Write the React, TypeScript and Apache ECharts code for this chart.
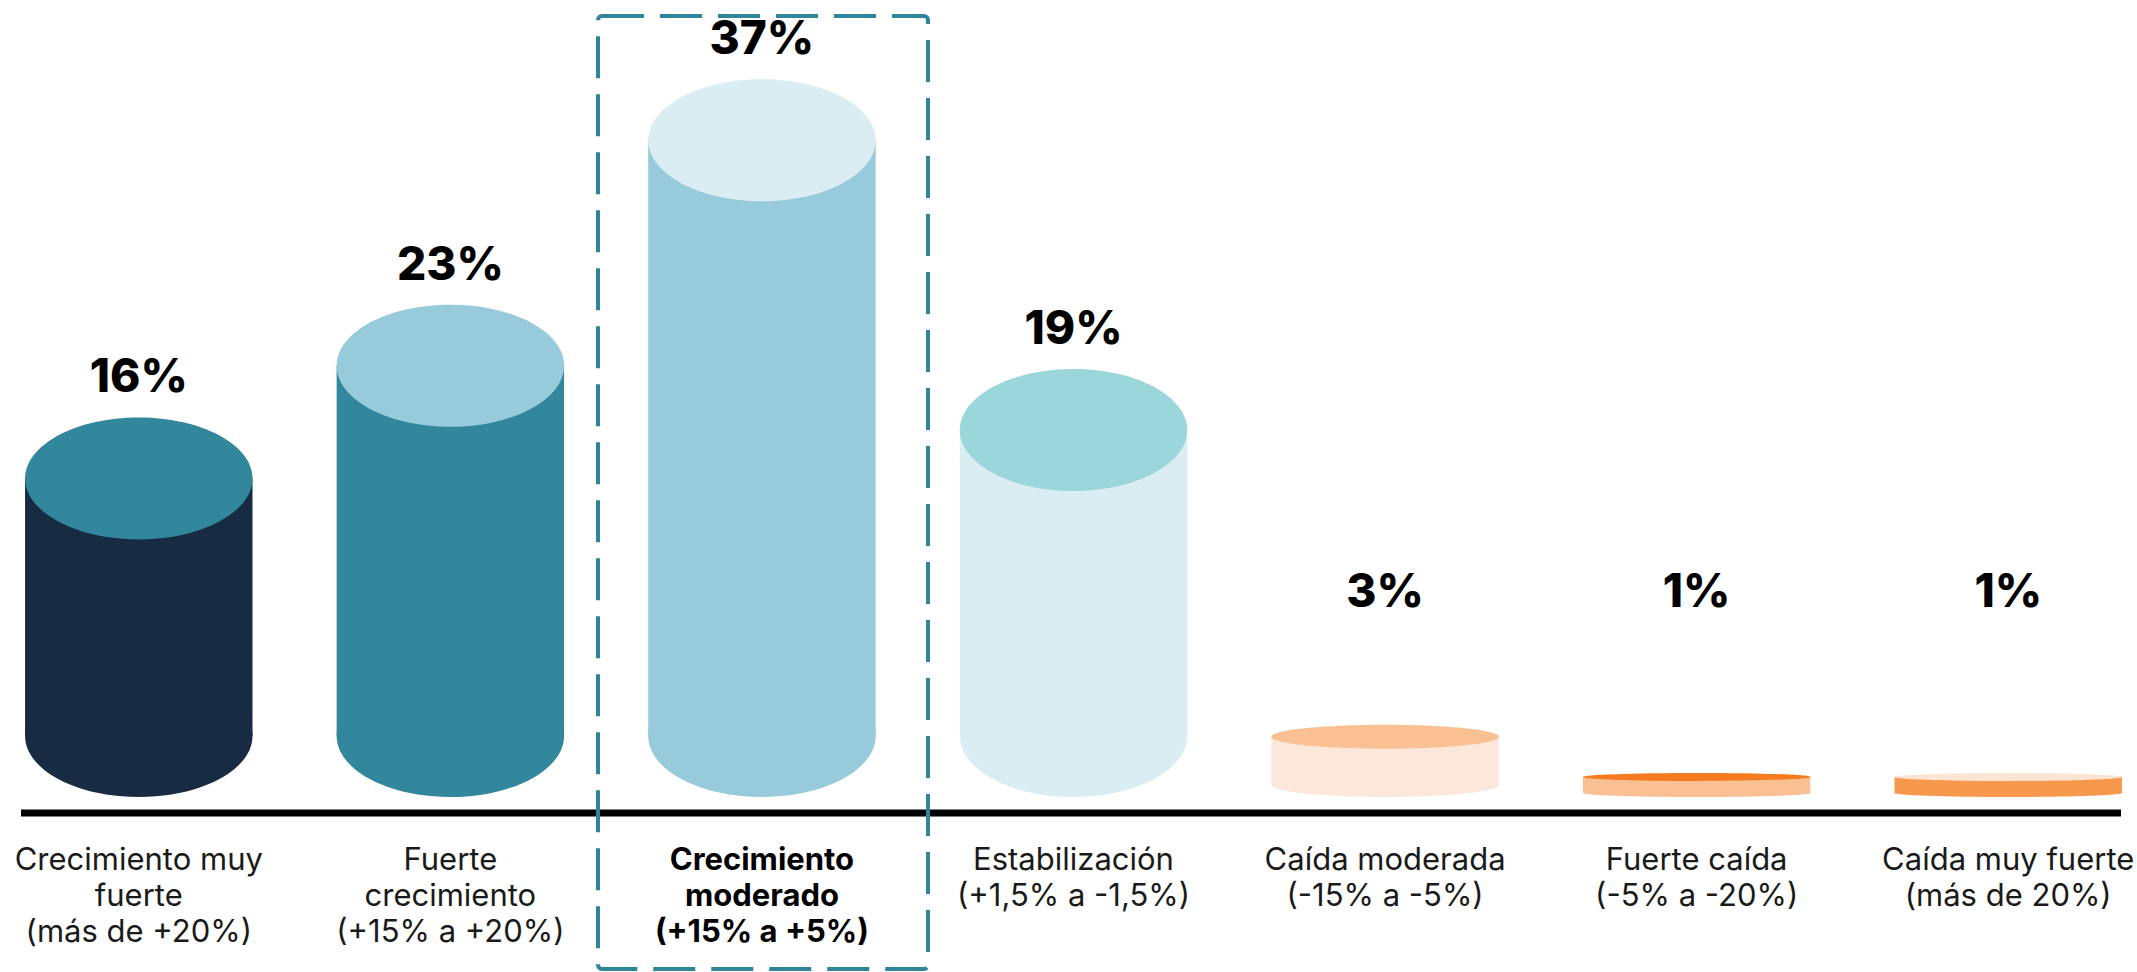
import React, { useEffect, useRef } from 'react';
import * as echarts from 'echarts';

const categories = [
  'Crecimiento muy\nfuerte\n(más de +20%)',
  'Fuerte\ncrecimiento\n(+15% a +20%)',
  'Crecimiento\nmoderado\n(+15% a +5%)',
  'Estabilización\n(+1,5% a -1,5%)',
  'Caída moderada\n(-15% a -5%)',
  'Fuerte caída\n(-5% a -20%)',
  'Caída muy fuerte\n(más de 20%)',
];
const values = [16, 23, 37, 19, 3, 1, 1];
const valueLabels = ['16%', '23%', '37%', '19%', '3%', '1%', '1%'];
const sideColors = ['#172B43', '#32879C', '#97CADB', '#DAEDF3', '#FCE8DA', '#F9C193', '#F7994D'];
const topColors = ['#32879C', '#97CADB', '#DAEDF3', '#9AD6DA', '#F9C193', '#F47B20', '#FCE5D5'];
const highlightIndex = 2;

const FONT = 'Inter, "Open Sans", sans-serif';

export default function App() {
  const ref = useRef<HTMLDivElement>(null);
  useEffect(() => {
    document.body.style.margin = '0';
    if (!ref.current) return;
    const chart = echarts.init(ref.current, undefined, { renderer: 'svg' });
    const option: any = {
      animation: false,
      backgroundColor: '#ffffff',
      grid: { left: -17, right: -27, top: 153, bottom: 175, containLabel: false, outerBoundsMode: 'none' },
      xAxis: {
        type: 'category',
        data: categories,
        axisLine: { show: false },
        axisTick: { show: false },
        splitLine: { show: false },
        axisLabel: {
          interval: 0,
          margin: 43,
          fontFamily: FONT,
          fontSize: 31,
          lineHeight: 36,
          color: '#1a1a1a',
          formatter: (val: string, idx: number) => {
            const lines = val.split('\n');
            const tag = idx === highlightIndex ? 'b' : 'n';
            return lines.map((l) => `{${tag}|${l}}`).join('\n');
          },
          rich: {
            n: { fontFamily: FONT, fontSize: 31, lineHeight: 36, color: '#1a1a1a', fontWeight: 400 },
            b: { fontFamily: FONT, fontSize: 31, lineHeight: 36, color: '#000000', fontWeight: 700 },
          },
        },
      },
      yAxis: { type: 'value', min: 0, max: 40, show: false, splitLine: { show: false } },
      graphic: [
        {
          type: 'line',
          shape: { x1: 21, y1: 813, x2: 2121, y2: 813 },
          style: { stroke: '#000000', lineWidth: 7 },
          z: 10,
        },
        {
          type: 'rect',
          shape: { x: 598, y: 16, width: 330, height: 953, r: 4 },
          style: { fill: 'none', stroke: '#2F8599', lineWidth: 4, lineDash: [42, 16] },
          z: 11,
        },
      ],
      series: [
        {
          type: 'custom',
          data: values.map((v, i) => [i, v]),
          encode: { x: 0, y: 1 },
          renderItem: (params: any, api: any) => {
            const i = api.value(0);
            const v = api.value(1);
            const top = api.coord([i, v]);
            const base = api.coord([i, 0]);
            const bandW = api.size([1, 0])[0];
            const rx = bandW * 0.365;
            const ry = Math.min(61, 4 * v);
            const cx = top[0];
            const topCy = top[1] - ry;
            const botCy = base[1] - ry;
            const side = sideColors[i];
            const topC = topColors[i];
            return {
              type: 'group',
              children: [
                {
                  type: 'rect',
                  shape: { x: cx - rx, y: topCy, width: 2 * rx, height: botCy - topCy },
                  style: { fill: side },
                },
                { type: 'ellipse', shape: { cx, cy: botCy, rx, ry }, style: { fill: side } },
                { type: 'ellipse', shape: { cx, cy: topCy, rx, ry }, style: { fill: topC } },
                {
                  type: 'text',
                  style: {
                    text: valueLabels[i],
                    x: cx,
                    y: Math.min(topCy - ry - 42, 590),
                    align: 'center',
                    verticalAlign: 'middle',
                    font: `800 46px ${FONT}`,
                    fill: '#000000',
                  },
                },
              ],
            };
          },
        },
      ],
    };
    chart.setOption(option);
    return () => chart.dispose();
  }, []);
  return <div ref={ref} style={{ width: 2137, height: 972 }} />;
}
